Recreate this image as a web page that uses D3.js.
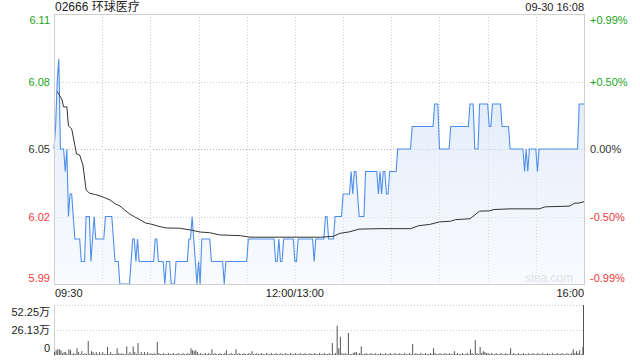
<!DOCTYPE html>
<html>
<head>
<meta charset="utf-8">
<script src="https://cdn.jsdelivr.net/npm/d3@7"></script>
<style>
  body { margin: 0; background: #fff; }
  svg { display: block; font-family: "Liberation Sans", Arial, "Noto Sans CJK SC", sans-serif; }
</style>
</head>
<body>
<div id="chart"></div>
<script>
// chart data
const title = "02666 环球医疗";
const stamp = "09-30 16:08";
const prevClose = 6.05;
const priceTicks = [6.11, 6.08, 6.05, 6.02, 5.99];
const pctTicks = ["+0.99%", "+0.50%", "0.00%", "-0.50%", "-0.99%"];
const timeLabels = [[0, "09:30"], [150, "12:00/13:00"], [330, "16:00"]];
const volTicks = [[52.25, "52.25万"], [26.13, "26.13万"], [0, "0"]];

// last price per minute, as [price, number of minutes]
const priceRuns = [
  [6.05, 1], [6.06, 1], [6.08, 1], [6.09, 1], [6.05, 3], [6.04, 1], [6.05, 1], [6.02, 1],
  [6.03, 2], [6.02, 1], [6.01, 4], [6.00, 3], [6.02, 3], [6.00, 1], [6.01, 1], [6.02, 1],
  [6.01, 6], [6.02, 5], [6.01, 1], [6.00, 3], [5.99, 7], [6.00, 1], [6.01, 2], [6.00, 1],
  [6.01, 1], [6.00, 10], [6.01, 2], [6.00, 4], [5.99, 1], [6.00, 3], [5.99, 3], [6.00, 8],
  [6.01, 2], [6.02, 1], [6.01, 1], [6.00, 1], [5.99, 1], [6.00, 1], [5.99, 1], [6.01, 6],
  [6.00, 8], [5.99, 1], [6.00, 14], [6.01, 17], [6.00, 2], [6.01, 1], [6.00, 2], [6.01, 7],
  [6.00, 2], [6.01, 10], [6.00, 1], [6.01, 6], [6.02, 2], [6.01, 4], [6.02, 5], [6.03, 5],
  [6.04, 1], [6.03, 1], [6.04, 2], [6.03, 1], [6.02, 4], [6.04, 8], [6.03, 1], [6.04, 1],
  [6.03, 1], [6.04, 2], [6.03, 2], [6.04, 5], [6.05, 9], [6.06, 14], [6.07, 3], [6.05, 7],
  [6.06, 12], [6.07, 3], [6.05, 3], [6.07, 6], [6.06, 2], [6.07, 6], [6.06, 5], [6.05, 9],
  [6.04, 1], [6.05, 1], [6.04, 1], [6.05, 5], [6.04, 1], [6.05, 25], [6.07, 4]
];

// average price, [minute, price]
const avgPoints = [
  [2, 6.0755], [4, 6.0732], [5, 6.0718], [6, 6.0687], [8, 6.0687], [9, 6.0602], [11, 6.0590],
  [12, 6.0553], [14, 6.0478], [16, 6.0473], [18, 6.0429], [20, 6.0318], [22, 6.0304],
  [26, 6.0297], [29, 6.0291], [32, 6.0282], [35, 6.0273], [38, 6.0257], [41, 6.0247],
  [44, 6.0229], [47, 6.0212], [50, 6.0199], [54, 6.0184], [57, 6.0171], [60, 6.0167],
  [63, 6.0161], [66, 6.0155], [70, 6.0149], [78, 6.0148], [85, 6.0140], [91, 6.0131],
  [97, 6.0128], [103, 6.0118], [116, 6.0115], [122, 6.0108], [166, 6.0108], [174, 6.0112],
  [178, 6.0125], [184, 6.0132], [190, 6.0144], [203, 6.0146], [222, 6.0146], [227, 6.0159],
  [234, 6.0165], [240, 6.0176], [247, 6.0179], [250, 6.0186], [259, 6.0190], [262, 6.0207],
  [265, 6.0224], [271, 6.0225], [274, 6.0231], [284, 6.0234], [302, 6.0234], [306, 6.0243],
  [321, 6.0246], [324, 6.0259], [327, 6.0260], [330, 6.0266]
];

// volume per minute, in 万 shares
const volume = [
  3, 5, 6, 6, 5, 2, 3, 3, 1, 6, 5, 1, 2, 1, 7, 3, 1, 4, 1, 2, 1, 14.6, 1, 4, 3, 1, 3, 1, 3, 1,
  3, 1, 1, 8.4, 1, 3, 1, 1, 1, 7, 2, 1, 2, 1, 1, 9, 1, 3, 1, 9, 3, 1, 12.5, 1, 3, 1, 3, 1, 3, 1,
  2, 1, 2, 1, 13.6, 2, 1, 1, 2, 1, 1, 2, 1, 1, 2, 1, 1, 2, 1, 1, 2, 1, 1, 2, 1, 7, 5, 4, 5, 3,
  1, 2, 1, 1, 2, 1, 2, 1, 6, 1, 2, 1, 1, 2, 1, 1, 2, 5, 1, 1, 2, 1, 1, 6, 1, 2, 1, 1, 2, 1,
  1, 2, 1, 4, 1, 1, 2, 1, 1, 2, 1, 1, 2, 1, 1, 2, 1, 1, 2, 1, 1, 2, 1, 1, 2, 1, 1, 2, 1, 1,
  2, 1, 1, 2, 1, 1, 2, 1, 1, 2, 1, 1, 2, 1, 1, 2, 1, 1, 2, 1, 1, 2, 1, 12.5, 1, 2, 30.6, 7, 19, 2,
  1, 2, 1, 23, 1, 1, 2, 3, 3, 1, 2, 9, 1, 1, 2, 1, 1, 2, 1, 1, 2, 1, 1, 2, 1, 1, 2, 1, 1, 2,
  1, 1, 2, 1, 1, 2, 1, 1, 2, 1, 1, 2, 1, 11.5, 1, 2, 1, 1, 2, 1, 1, 2, 1, 1, 2, 1, 7, 2, 1, 1,
  2, 1, 1, 2, 1, 1, 2, 1, 1, 4, 1, 2, 1, 1, 2, 1, 1, 2, 1, 6, 2, 1, 15.7, 2, 1, 8.4, 2, 4, 3, 2,
  2, 1, 2, 1, 1, 2, 1, 1, 2, 1, 1, 2, 1, 1, 7, 1, 2, 1, 1, 2, 1, 1, 2, 1, 1, 2, 1, 1, 2, 1,
  1, 2, 1, 1, 2, 1, 1, 2, 1, 1, 2, 1, 1, 2, 1, 1, 2, 1, 1, 2, 1, 1, 2, 6, 2, 4, 2, 5, 1, 8.4,
  52.25
];

const prices = priceRuns.flatMap(([p, n]) => Array(n).fill(p));

const width = 640, height = 360;
const plot = { left: 54, right: 584, top: 14, bottom: 284 };
const volBox = { top: 305, bottom: 355 };

const green = "#20a520", red = "#f03a3a", dark = "#333";
const tickColor = v => v > prevClose ? green : v < prevClose ? red : dark;

const svg = d3.select("#chart")
  .append("svg")
  .attr("width", width)
  .attr("height", height);

// Scales
const x = d3.scaleLinear()
  .domain([0, 330])
  .range([plot.left, plot.right]);

const y = d3.scaleLinear()
  .domain([priceTicks[priceTicks.length - 1], priceTicks[0]])
  .range([plot.bottom, plot.top]);

const yVol = d3.scaleLinear()
  .domain([0, volTicks[0][0]])
  .range([volBox.bottom, volBox.top]);

// Header
svg.append("text")
  .attr("x", plot.left + 1)
  .attr("y", 11)
  .attr("font-size", 12)
  .attr("fill", "#222")
  .text(title);

svg.append("text")
  .attr("x", plot.right)
  .attr("y", 11)
  .attr("text-anchor", "end")
  .attr("font-size", 11)
  .attr("fill", "#222")
  .text(stamp);

// Grid
const grid = svg.append("g");
grid.selectAll("line.h")
  .data(priceTicks.slice(1, -1))
  .join("line")
  .attr("x1", plot.left).attr("x2", plot.right)
  .attr("y1", d => Math.round(y(d)) + 0.5).attr("y2", d => Math.round(y(d)) + 0.5)
  .attr("stroke", d => d === prevClose ? "#b5b5b5" : "#cccccc")
  .attr("stroke-dasharray", "1,2");

grid.selectAll("line.v")
  .data(d3.range(30, 330, 30))
  .join("line")
  .attr("x1", d => Math.round(x(d)) + 0.5).attr("x2", d => Math.round(x(d)) + 0.5)
  .attr("y1", plot.top).attr("y2", plot.bottom)
  .attr("stroke", "#cccccc")
  .attr("stroke-dasharray", "1,2");

// Watermark
svg.append("text")
  .attr("x", 573)
  .attr("y", 282)
  .attr("text-anchor", "end")
  .attr("font-size", 12)
  .attr("fill", "#d2d2d2")
  .text("sina.com");

// Area gradient
const grad = svg.append("defs").append("linearGradient")
  .attr("id", "fillGrad")
  .attr("gradientUnits", "userSpaceOnUse")
  .attr("x1", 0).attr("y1", plot.top)
  .attr("x2", 0).attr("y2", plot.bottom);
grad.append("stop").attr("offset", "0%").attr("stop-color", "#c5d9f7").attr("stop-opacity", 0.75);
grad.append("stop").attr("offset", "100%").attr("stop-color", "#eef4fd").attr("stop-opacity", 0.4);

svg.append("path")
  .datum(prices)
  .attr("fill", "url(#fillGrad)")
  .attr("d", d3.area()
    .x((d, i) => x(i))
    .y0(plot.bottom)
    .y1(d => y(d)));

svg.append("path")
  .datum(prices)
  .attr("fill", "none")
  .attr("stroke", "#4f8fec")
  .attr("stroke-width", 1.1)
  .attr("d", d3.line()
    .x((d, i) => x(i))
    .y(d => y(d)));

svg.append("path")
  .datum(avgPoints)
  .attr("fill", "none")
  .attr("stroke", "#333")
  .attr("stroke-width", 1)
  .attr("d", d3.line()
    .x(d => x(d[0]))
    .y(d => y(d[1])));

// Frame
svg.append("rect")
  .attr("x", plot.left + 0.5)
  .attr("y", plot.top + 0.5)
  .attr("width", plot.right - plot.left)
  .attr("height", plot.bottom - plot.top)
  .attr("fill", "none")
  .attr("stroke", "#cfcfcf");

// Price labels (left) and percent labels (right)
const labelY = v => Math.max(plot.top + 6, Math.min(plot.bottom - 6, y(v))) + 4;

svg.selectAll("text.price")
  .data(priceTicks)
  .join("text")
  .attr("class", "price")
  .attr("x", 50)
  .attr("y", labelY)
  .attr("text-anchor", "end")
  .attr("font-size", 11)
  .attr("fill", tickColor)
  .text(d => d.toFixed(2));

svg.selectAll("text.pct")
  .data(priceTicks)
  .join("text")
  .attr("class", "pct")
  .attr("x", 590)
  .attr("y", labelY)
  .attr("font-size", 11)
  .attr("fill", tickColor)
  .text((d, i) => pctTicks[i]);

// Time labels
svg.selectAll("text.time")
  .data(timeLabels)
  .join("text")
  .attr("class", "time")
  .attr("x", d => x(d[0]) + (d[0] === 0 ? 1 : 0))
  .attr("y", 297)
  .attr("text-anchor", d => d[0] === 0 ? "start" : d[0] === 330 ? "end" : "middle")
  .attr("font-size", 11)
  .attr("fill", "#222")
  .text(d => d[1]);

// Volume panel
svg.selectAll("line.vgrid")
  .data(volTicks.slice(0, 2))
  .join("line")
  .attr("x1", plot.left).attr("x2", plot.right)
  .attr("y1", d => Math.round(yVol(d[0])) + 0.5).attr("y2", d => Math.round(yVol(d[0])) + 0.5)
  .attr("stroke", "#cccccc")
  .attr("stroke-dasharray", "1,2");

svg.append("line")
  .attr("x1", plot.left + 0.5).attr("x2", plot.left + 0.5)
  .attr("y1", volBox.top).attr("y2", volBox.bottom + 1)
  .attr("stroke", "#cfcfcf");

svg.selectAll("rect.vol")
  .data(volume)
  .join("rect")
  .attr("class", "vol")
  .attr("x", (d, i) => Math.min(x(i), plot.right - 1))
  .attr("y", d => yVol(d))
  .attr("width", 1)
  .attr("height", d => volBox.bottom - yVol(d))
  .attr("fill", "#555");

svg.selectAll("text.vol")
  .data(volTicks)
  .join("text")
  .attr("class", "vol")
  .attr("x", 50)
  .attr("y", d => Math.max(volBox.top + 7, Math.min(volBox.bottom - 7, yVol(d[0]))) + 4)
  .attr("text-anchor", "end")
  .attr("font-size", 11)
  .attr("fill", "#222")
  .text(d => d[1]);
</script>
</body>
</html>
